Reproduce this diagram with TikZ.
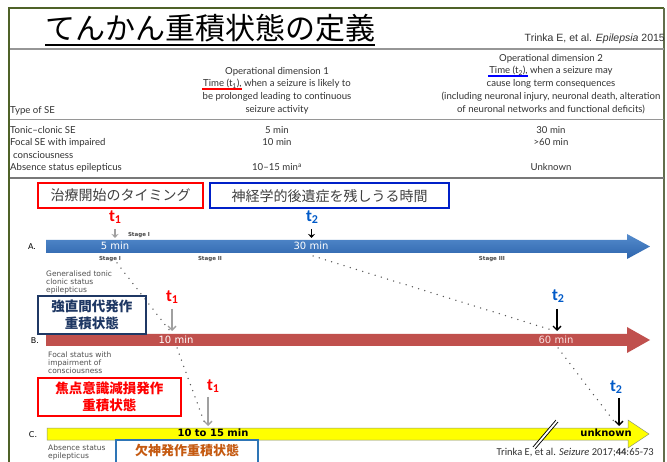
\documentclass[tikz,border=0pt]{standalone}
\usepackage{fontspec}
\setmainfont{Liberation Sans}
\newfontfamily\jp{Noto Sans CJK JP}
\newfontfamily\gill{Lato}
\newfontfamily\verd{DejaVu Sans}
\newfontfamily\cali{Carlito}
\usetikzlibrary{arrows.meta}
\definecolor{frameg}{RGB}{79,98,40}
\definecolor{tabgray}{RGB}{50,50,50}
\definecolor{sepgray}{RGB}{150,150,150}
\definecolor{boxred}{RGB}{255,0,0}
\definecolor{boxblue}{RGB}{0,32,200}
\definecolor{navy}{RGB}{31,56,100}
\definecolor{tred}{RGB}{255,0,0}
\definecolor{tblue}{RGB}{0,90,200}
\definecolor{barred}{RGB}{192,80,77}
\definecolor{barblueT}{RGB}{85,140,205}
\definecolor{barblueB}{RGB}{45,100,172}
\definecolor{ygold}{RGB}{255,255,0}
\definecolor{absblue}{RGB}{46,117,182}
\definecolor{absorange}{RGB}{197,90,17}
\definecolor{dotgray}{RGB}{85,85,85}
\definecolor{sidegray}{RGB}{80,80,80}
\newcommand\mycolul[2]{\setbox0=\hbox{#2}\leavevmode\rlap{\color{#1}\kern-1pt\rule[-3.2pt]{\dimexpr\wd0+1pt\relax}{2.3pt}}\box0\relax}
\newcommand\tsub[1]{t\raisebox{-2.5pt}{\fontsize{12}{12}\selectfont #1}}
\tikzset{
  tab/.style={font=\gill\fontsize{9.6}{11}\selectfont, text=tabgray, inner sep=0pt},
  jpbox/.style={font=\jp\fontsize{14}{16}\selectfont, text={rgb,255:red,64;green,64;blue,64}, line width=2.3pt, inner sep=0pt, anchor=north west},
  typebox/.style={font=\jp\bfseries\fontsize{13.5}{17.5}\selectfont, line width=1.8pt, inner sep=0pt, anchor=north west, align=center},
  tlab/.style={font=\cali\bfseries\fontsize{17}{17}\selectfont, inner sep=0pt},
  bartxt/.style={font=\verd\fontsize{10}{12}\selectfont, inner sep=0pt, anchor=mid},
  stg/.style={font=\verd\bfseries\fontsize{5.5}{6}\selectfont, text={rgb,255:red,70;green,70;blue,70}, inner sep=0pt, anchor=mid},
  side/.style={font=\verd\fontsize{7.5}{8.2}\selectfont, text=sidegray, inner sep=0pt, anchor=north west, align=left},
  dotline/.style={dotgray, line width=1.5pt, line cap=round, dash pattern=on 0pt off 6.5pt},
  grayarr/.style={draw={rgb,255:red,160;green,160;blue,160}, line width=1.3pt, -{Straight Barb[length=4pt,width=8pt]}},
  blackarr/.style={draw=black, line width=1.3pt, -{Straight Barb[length=4pt,width=8pt]}},
}
\begin{document}
\begin{tikzpicture}[x=1pt,y=-1pt]
\useasboundingbox (0,0) rectangle (667,462);
\fill[white] (0,0) rectangle (667,462);
% frame
\draw[frameg, line width=2pt] (9,462) -- (9,8) -- (664,8);
\draw[frameg!60!gray, line width=1.2pt] (664,8) -- (664,462);
% title
\node[anchor=base west, font=\jp\fontsize{30}{30}\selectfont, inner sep=0pt] (title) at (45,40) {てんかん重積状態の定義};
\draw[line width=1.5pt] (title.south west |- 0,45) -- (title.south east |- 0,45);
\node[anchor=base east, font=\fontsize{10.5}{12}\selectfont, inner sep=0pt, text=tabgray] (cit1) at (665,42) {Trinka E, et al. \textit{Epilepsia} 2015};
\draw[sepgray, line width=1.8pt] (10,49) -- (664,49);
% table header
\node[tab, anchor=mid] (h2a) at (551,59) {Operational dimension 2};
\node[tab, anchor=mid] (h2b) at (551,71) {\mycolul{blue}{Time (t\textsubscript{2}),} when a seizure may};
\node[tab, anchor=mid] (h2c) at (551,84) {cause long term consequences};
\node[tab, anchor=mid] (h2d) at (551,97) {(including neuronal injury, neuronal death, alteration};
\node[tab, anchor=mid] (h2e) at (551,110) {of neuronal networks and functional deficits)};
\node[tab, anchor=mid] (h1a) at (277,72) {Operational dimension 1};
\node[tab, anchor=mid] (h1b) at (277,84) {\mycolul{red}{Time (t\textsubscript{1}),} when a seizure is likely to};
\node[tab, anchor=mid] (h1c) at (277,97) {be prolonged leading to continuous};
\node[tab, anchor=mid] (h1d) at (277,110) {seizure activity};
\node[tab, anchor=mid west] (h0) at (10,111) {Type of SE};
\draw[sepgray, line width=0.8pt] (10,119) -- (664,119);
% rows
\node[tab, anchor=mid west] (r1) at (10,131) {Tonic–clonic SE};
\node[tab, anchor=mid] (r1a) at (277,131) {5 min};
\node[tab, anchor=mid] (r1b) at (551,131) {30 min};
\node[tab, anchor=mid west] (r2) at (10,143) {Focal SE with impaired};
\node[tab, anchor=mid west] (r2x) at (13,156) {consciousness};
\node[tab, anchor=mid] (r2a) at (277,143) {10 min};
\node[tab, anchor=mid] (r2b) at (551,143) {>60 min};
\node[tab, anchor=mid west] (r3) at (10,168) {Absence status epilepticus};
\node[tab, anchor=mid] (r3a) at (277,168) {10–15 min\textsuperscript{a}};
\node[tab, anchor=mid] (r3b) at (551,168) {Unknown};
\draw[sepgray!80!black, line width=1.6pt] (10,178) -- (664,178);
% boxes
\node[jpbox, draw=boxred, minimum width=165pt, minimum height=25pt] (bx1) at (37,182) {治療開始のタイミング};
\node[jpbox, draw=boxblue, minimum width=239pt, minimum height=25pt] (bx2) at (209,182) {神経学的後遺症を残しうる時間};
% arrow A
\shade[top color=barblueT, bottom color=barblueB] (46,240) -- (627,240) -- (627,234) -- (650,246.5) -- (627,259) -- (627,253) -- (46,253) -- cycle;
\node[font=\verd\fontsize{8}{10}\selectfont, inner sep=0pt, anchor=mid] (la) at (32,247) {A.};
\node[bartxt, text=white] (a5) at (115,246.5) {5 min};
\node[bartxt, text=white] (a30) at (311,246.5) {30 min};
\node[tlab, text=tred] (t1a) at (115,217) {\tsub{1}};
\node[tlab, text=tblue] (t2a) at (312,217) {\tsub{2}};
\coordinate (ga1) at (115,229);
\coordinate (ga2) at (115,238);
\draw[draw={rgb,255:red,160;green,160;blue,160}, line width=1.2pt, -{Stealth[length=4pt,width=7pt]}] (ga1) -- (ga2);
\coordinate (ba1) at (311.5,229);
\coordinate (ba2) at (311.5,238);
\draw[black, line width=1.2pt, -{Stealth[length=4pt,width=7pt]}] (ba1) -- (ba2);
\node[stg] (s1a) at (139,234) {Stage I};
\node[stg] (s1b) at (110,258) {Stage I};
\node[stg] (s2) at (210,258) {Stage II};
\node[stg] (s3) at (492,258) {Stage III};
% arrow B
\fill[barred] (46,334) -- (627,334) -- (627,327) -- (650,340) -- (627,353) -- (627,346) -- (46,346) -- cycle;
\node[font=\verd\fontsize{8}{10}\selectfont, inner sep=0pt, anchor=mid] (lb) at (35,341) {B.};
\node[bartxt, text=white] (b10) at (176,340.5) {10 min};
\node[bartxt, text={rgb,255:red,250;green,225;blue,225}] (b60) at (556,340.5) {60 min};
\node[tlab, text=tred] (t1b) at (172,297) {\tsub{1}};
\node[tlab, text=tblue] (t2b) at (558,296) {\tsub{2}};
\coordinate (gb1) at (172,309);
\coordinate (gb2) at (172,331);
\draw[grayarr] (gb1) -- (gb2);
\coordinate (bb1) at (557,309);
\coordinate (bb2) at (557,331);
\draw[blackarr] (bb1) -- (bb2);
% arrow C
\filldraw[fill=ygold, draw={rgb,255:red,140;green,150;blue,120}, line width=0.5pt] (47,428) -- (628,428) -- (628,420) -- (649,434) -- (628,448) -- (628,440) -- (47,440) -- cycle;
\node[font=\verd\fontsize{8}{10}\selectfont, inner sep=0pt, anchor=mid] (lc) at (33,435) {C.};
\node[bartxt, font=\verd\bfseries\fontsize{10}{12}\selectfont] (c10) at (213,434) {10 to 15 min};
\node[bartxt, font=\verd\bfseries\fontsize{10}{12}\selectfont] (cun) at (606,434) {unknown};
\node[tlab, text=tred] (t1c) at (213,386) {\tsub{1}};
\node[tlab, text=tblue] (t2c) at (616,387) {\tsub{2}};
\coordinate (gc1) at (208,397);
\coordinate (gc2) at (208,426);
\draw[grayarr] (gc1) -- (gc2);
\coordinate (bc1) at (619,398);
\coordinate (bc2) at (619,426);
\draw[blackarr] (bc1) -- (bc2);
% break mark
\coordinate (bk1) at (534,448);
\coordinate (bk2) at (557,421);
\draw[black, line width=3.6pt] (bk1) -- (bk2);
\draw[white, line width=1.8pt, shorten <=-0.6pt, shorten >=-0.6pt] (bk1) -- (bk2);
% dotted connectors
\coordinate (d1s) at (117,263);
\coordinate (d1e) at (170,331);
\coordinate (d2s) at (177,348);
\coordinate (d2e) at (205,424);
\coordinate (d3s) at (313,256);
\coordinate (d3e) at (555,331);
\coordinate (d4s) at (558,348);
\coordinate (d4e) at (616,424);
\draw[dotline] (d1s) -- (d1e);
\draw[dotline] (d2s) -- (d2e);
\draw[dotline] (d3s) -- (d3e);
\draw[dotline] (d4s) -- (d4e);
% side labels
\node[side] (sg) at (46,270.5) {Generalised tonic\\clonic status\\epilepticus};
\node[side] (sf) at (48,351.5) {Focal status with\\impairment of\\consciousness};
\node[side] (sa) at (48,444.5) {Absence status\\epilepticus};
% type boxes
\node[typebox, draw=navy, text=navy, minimum width=108pt, minimum height=38pt] (tb1) at (37,295) {強直間代発作\\重積状態};
\node[typebox, draw=boxred, text=boxred, minimum width=143pt, minimum height=38pt] (tb2) at (37,377) {焦点意識減損発作\\重積状態};
\draw[absblue, line width=1.5pt] (116,440) rectangle (258,475);
\node[font=\jp\bfseries\fontsize{13}{15}\selectfont, text=absorange, inner sep=0pt] (tb3) at (187,451) {欠神発作重積状態};
% citation
\node[anchor=base east, font=\cali\fontsize{10.5}{12}\selectfont, text=tabgray, inner sep=0pt] (cit2) at (654,455) {Trinka E, et al. \textit{Seizure} 2017;\textbf{44}:65-73};
\end{tikzpicture}
\end{document}
